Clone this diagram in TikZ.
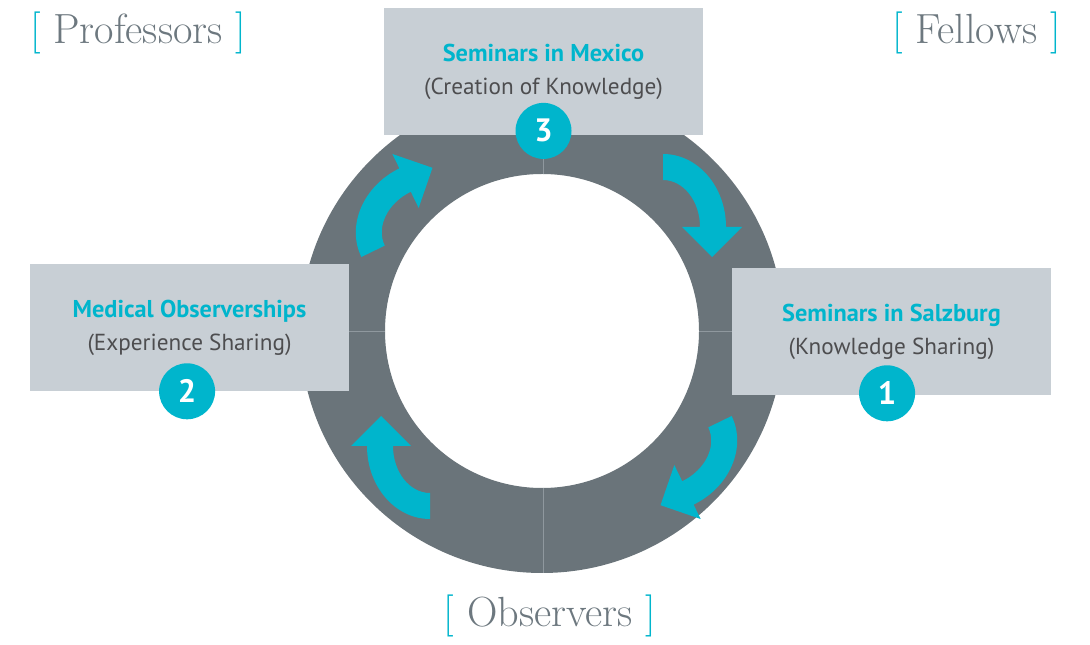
\documentclass[tikz,border=0pt]{standalone}
\usepackage{fontspec}
\newfontfamily\boxfont{PT Sans}
\definecolor{ringgray}{HTML}{6A747A}
\definecolor{boxgray}{HTML}{C8CFD5}
\definecolor{flowcyan}{HTML}{00B5CC}
\definecolor{subgray}{HTML}{4D4D4F}
\definecolor{taggray}{HTML}{6D787F}
\definecolor{seamgray}{HTML}{8F989E}
\newcommand{\brk}[1]{\textcolor{flowcyan}{[}\ #1\ \textcolor{flowcyan}{]}}
\newcommand{\stagetext}[2]{{\fontsize{17.3}{23.5}\selectfont\color{flowcyan}\bfseries #1}\\#2}
\tikzset{
    stage/.style={fill=boxgray, minimum width=7.975cm, minimum height=3.175cm, inner sep=0pt,
        align=center, text=subgray, font=\boxfont\fontsize{16.5}{23.5}\selectfont},
    badge/.style={circle, fill=flowcyan, minimum size=1.4cm, inner sep=0pt, text=white,
        font=\boxfont\bfseries\fontsize{23}{23}\selectfont},
    tag/.style={anchor=base, text=taggray, font=\fontsize{30}{30}\selectfont},
    seam/.style={seamgray, line width=0.6pt},
    turn/.pic={\fill[flowcyan] (0,73) arc[start angle=90, end angle=0, x radius=63, y radius=73]
        -- (79,0) -- (49,-30) -- (19,0) -- (37,0)
        arc[start angle=0, end angle=90, x radius=37, y radius=47] -- cycle;},
}
\begin{document}
\begin{tikzpicture}[x=0.025cm, y=0.025cm]
\useasboundingbox (0,0) rectangle (1090,644);
\coordinate (o) at (542,313);
\fill[ringgray, even odd rule] (o) circle (242) (o) circle (157);
\coordinate (in3) at (543,470);
\coordinate (out3) at (543,555);
\coordinate (in0) at (543,156);
\coordinate (out0) at (543,71);
\coordinate (inL) at (385,313);
\coordinate (outL) at (300,313);
\coordinate (inR) at (699,313);
\coordinate (outR) at (784,313);
\draw[seam] (in3) -- (out3) (in0) -- (out0) (outL) -- (inL) (inR) -- (outR);
\pic[rotate=0] at (663,417) {turn};
\pic[rotate=296] at (666,196) {turn};
\pic[rotate=180] at (430,198) {turn};
\pic[rotate=116] at (427,419) {turn};
\node[stage] (mexico) at (543.5,572.5) {\stagetext{Seminars in Mexico}{(Creation of Knowledge)}};
\node[stage] (observe) at (189.5,316.5) {\stagetext{Medical Observerships}{(Experience Sharing)}};
\node[stage] (salzburg) at (891.5,312.5) {\stagetext{Seminars in Salzburg}{(Knowledge Sharing)}};
\node[badge] (n3) at ([yshift=0.11cm]mexico.south) {3};
\node[badge] (n2) at ([xshift=-0.06cm]observe.south) {2};
\node[badge] (n1) at ([xshift=-0.11cm, yshift=0.05cm]salzburg.south) {1};
\node[tag] (prof) at (138,600.5) {\brk{Professors}};
\node[tag] (fell) at (976.5,600.5) {\brk{Fellows}};
\node[tag] (obs) at (550,17.3) {\brk{Observers}};
\end{tikzpicture}
\end{document}
